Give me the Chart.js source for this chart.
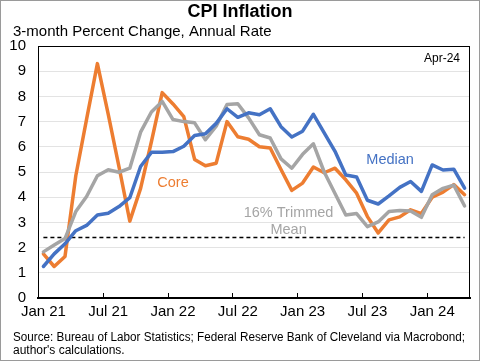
<!DOCTYPE html>
<html>
<head>
<meta charset="utf-8">
<script src="https://cdn.jsdelivr.net/npm/chart.js@4/dist/chart.umd.min.js"></script>
<style>
  html, body { margin: 0; padding: 0; background: #fff; }
  #wrap { width: 480px; height: 361px; }
</style>
</head>
<body>
<div id="wrap"><canvas id="cpiChart" width="480" height="361"></canvas></div>
<script>
// Monthly observations, Jan 2021 - Apr 2024
const months = [
    'Jan 21', 'Feb 21', 'Mar 21', 'Apr 21', 'May 21', 'Jun 21', 'Jul 21', 'Aug 21', 'Sep 21', 'Oct 21', 'Nov 21', 'Dec 21',
    'Jan 22', 'Feb 22', 'Mar 22', 'Apr 22', 'May 22', 'Jun 22', 'Jul 22', 'Aug 22', 'Sep 22', 'Oct 22', 'Nov 22', 'Dec 22',
    'Jan 23', 'Feb 23', 'Mar 23', 'Apr 23', 'May 23', 'Jun 23', 'Jul 23', 'Aug 23', 'Sep 23', 'Oct 23', 'Nov 23', 'Dec 23',
    'Jan 24', 'Feb 24', 'Mar 24', 'Apr 24'
];

// 3-month percent change, annual rate
const median = [
    1.25, 1.75, 2.15, 2.67, 2.88, 3.29, 3.36, 3.63, 3.98, 5.22, 5.78, 5.78,
    5.81, 6.02, 6.45, 6.52, 6.93, 7.51, 7.17, 7.35, 7.27, 7.51, 6.80, 6.39,
    6.62, 7.29, 6.55, 5.82, 4.88, 4.80, 3.88, 3.73, 4.05, 4.39, 4.62, 4.23,
    5.28, 5.08, 5.11, 4.36
];
const trimmedMean = [
    1.83, 2.10, 2.36, 3.43, 4.03, 4.85, 5.09, 4.99, 5.15, 6.58, 7.38, 7.80,
    7.08, 7.00, 6.95, 6.28, 6.82, 7.68, 7.71, 7.15, 6.48, 6.35, 5.52, 5.15,
    5.70, 6.12, 5.00, 4.15, 3.29, 3.35, 2.83, 3.02, 3.43, 3.47, 3.45, 3.20,
    4.10, 4.35, 4.48, 3.65
];
const core = [
    1.75, 1.25, 1.65, 4.85, 7.10, 9.30, 7.30, 5.20, 3.05, 4.35, 6.20, 8.15,
    7.70, 7.20, 5.50, 5.25, 5.35, 7.00, 6.40, 6.30, 6.00, 5.95, 5.10, 4.27,
    4.56, 5.20, 4.97, 5.15, 4.69, 4.16, 3.23, 2.58, 3.10, 3.22, 3.50, 3.35,
    4.00, 4.20, 4.50, 4.10
];
const referenceLevel = 2.4;
const referenceLine = months.map(() => referenceLevel);

const yTicks = [0, 1, 2, 3, 4, 5, 6, 7, 8, 9, 10];

const BLUE = '#4472C4';
const ORANGE = '#ED7D31';
const GRAY = '#A5A5A5';

Chart.defaults.font.family = "'Liberation Sans', Arial, sans-serif";
Chart.defaults.color = '#000';

// only Jan / Jul get a label and a tick
const showTick = (i) => /^(Jan|Jul)/.test(months[i]);

const decorations = {
    id: 'decorations',
    beforeDraw(chart) {
        const ctx = chart.ctx;
        ctx.save();
        ctx.fillStyle = '#fff';
        ctx.fillRect(0, 0, chart.width, chart.height);
        ctx.restore();
    },
    afterDraw(chart) {
        const { ctx, chartArea: a, scales: { x, y } } = chart;
        ctx.save();

        // plot frame
        ctx.strokeStyle = '#000';
        ctx.lineWidth = 1;
        ctx.strokeRect(a.left + 0.5, a.top + 0.5, a.right - a.left - 1, a.bottom - a.top);

        // short inward tick marks between months
        const half = (x.getPixelForValue(1) - x.getPixelForValue(0)) / 2;
        ctx.beginPath();
        months.forEach((m, i) => {
            if (!showTick(i)) return;
            const px = Math.round(x.getPixelForValue(i) - half) + 0.5;
            ctx.moveTo(px, a.bottom);
            ctx.lineTo(px, a.bottom - 5);
        });
        ctx.stroke();

        // series labels
        const notes = [
            { text: 'Core', color: ORANGE, i: 12, v: 4.56, size: 14.5 },
            { text: 'Median', color: BLUE, i: 32.1, v: 5.48, size: 14.5 },
            { text: '16% Trimmed', color: GRAY, i: 22.7, v: 3.37, size: 14.5 },
            { text: 'Mean', color: GRAY, i: 22.7, v: 2.69, size: 14.5 }
        ];
        ctx.textAlign = 'center';
        ctx.textBaseline = 'middle';
        notes.forEach(n => {
            ctx.font = n.size + "px 'Liberation Sans', Arial, sans-serif";
            ctx.fillStyle = n.color;
            ctx.fillText(n.text, x.getPixelForValue(n.i), y.getPixelForValue(n.v));
        });

        // latest observation
        ctx.fillStyle = '#000';
        ctx.font = "12px 'Liberation Sans', Arial, sans-serif";
        ctx.textAlign = 'right';
        ctx.fillText('Apr-24', a.right - 10, a.top + 13);

        // titles
        ctx.textAlign = 'center';
        ctx.font = "bold 18px 'Liberation Sans', Arial, sans-serif";
        ctx.fillText('CPI Inflation', 240, 12);
        ctx.textAlign = 'left';
        ctx.font = "15px 'Liberation Sans', Arial, sans-serif";
        ctx.fillText('3-month Percent Change, Annual Rate', 13, 32);

        // source note
        ctx.font = "12px 'Liberation Sans', Arial, sans-serif";
        ctx.fillText('Source: Bureau of Labor Statistics; Federal Reserve Bank of Cleveland via Macrobond;', 13, 338, 452);
        ctx.fillText("author's calculations.", 13, 351);

        // outer frame
        ctx.strokeStyle = '#9a9a9a';
        ctx.strokeRect(0.5, 0.5, chart.width - 1, chart.height - 1);
        ctx.restore();
    }
};

const lineStyle = {
    borderWidth: 3.5,
    pointRadius: 0,
    tension: 0,
    borderJoinStyle: 'round',
    borderCapStyle: 'round'
};

new Chart(document.getElementById('cpiChart'), {
    type: 'line',
    data: {
        labels: months,
        datasets: [
            { label: 'Median', data: median, borderColor: BLUE, ...lineStyle },
            { label: '16% Trimmed Mean', data: trimmedMean, borderColor: GRAY, ...lineStyle },
            { label: 'Core', data: core, borderColor: ORANGE, ...lineStyle },
            {
                label: 'Reference',
                data: referenceLine,
                borderColor: '#000',
                borderWidth: 1.5,
                borderDash: [4, 3],
                pointRadius: 0
            }
        ]
    },
    options: {
        responsive: false,
        animation: false,
        layout: { padding: { top: 46, right: 10, left: 0, bottom: 0 } },
        plugins: {
            legend: { display: false },
            tooltip: { enabled: false },
            title: { display: false }
        },
        scales: {
            x: {
                offset: true,
                grid: { offset: true, drawOnChartArea: false, drawTicks: false },
                border: { color: '#000', width: 2 },
                ticks: {
                    autoSkip: false,
                    maxRotation: 0,
                    padding: 5,
                    font: { size: 15 },
                    color: '#000',
                    callback: (val, i) => showTick(i) ? months[i] : null
                },
                afterFit: (scale) => { scale.height = 63; }
            },
            y: {
                min: 0,
                max: 10,
                afterBuildTicks: (scale) => { scale.ticks = yTicks.map(v => ({ value: v })); },
                grid: { color: '#E3E3E3', drawTicks: false },
                border: { color: '#000', width: 1 },
                ticks: { padding: 12, font: { size: 15 }, color: '#000' },
                afterFit: (scale) => { scale.width = 38; }
            }
        }
    },
    plugins: [decorations]
});
</script>
</body>
</html>
